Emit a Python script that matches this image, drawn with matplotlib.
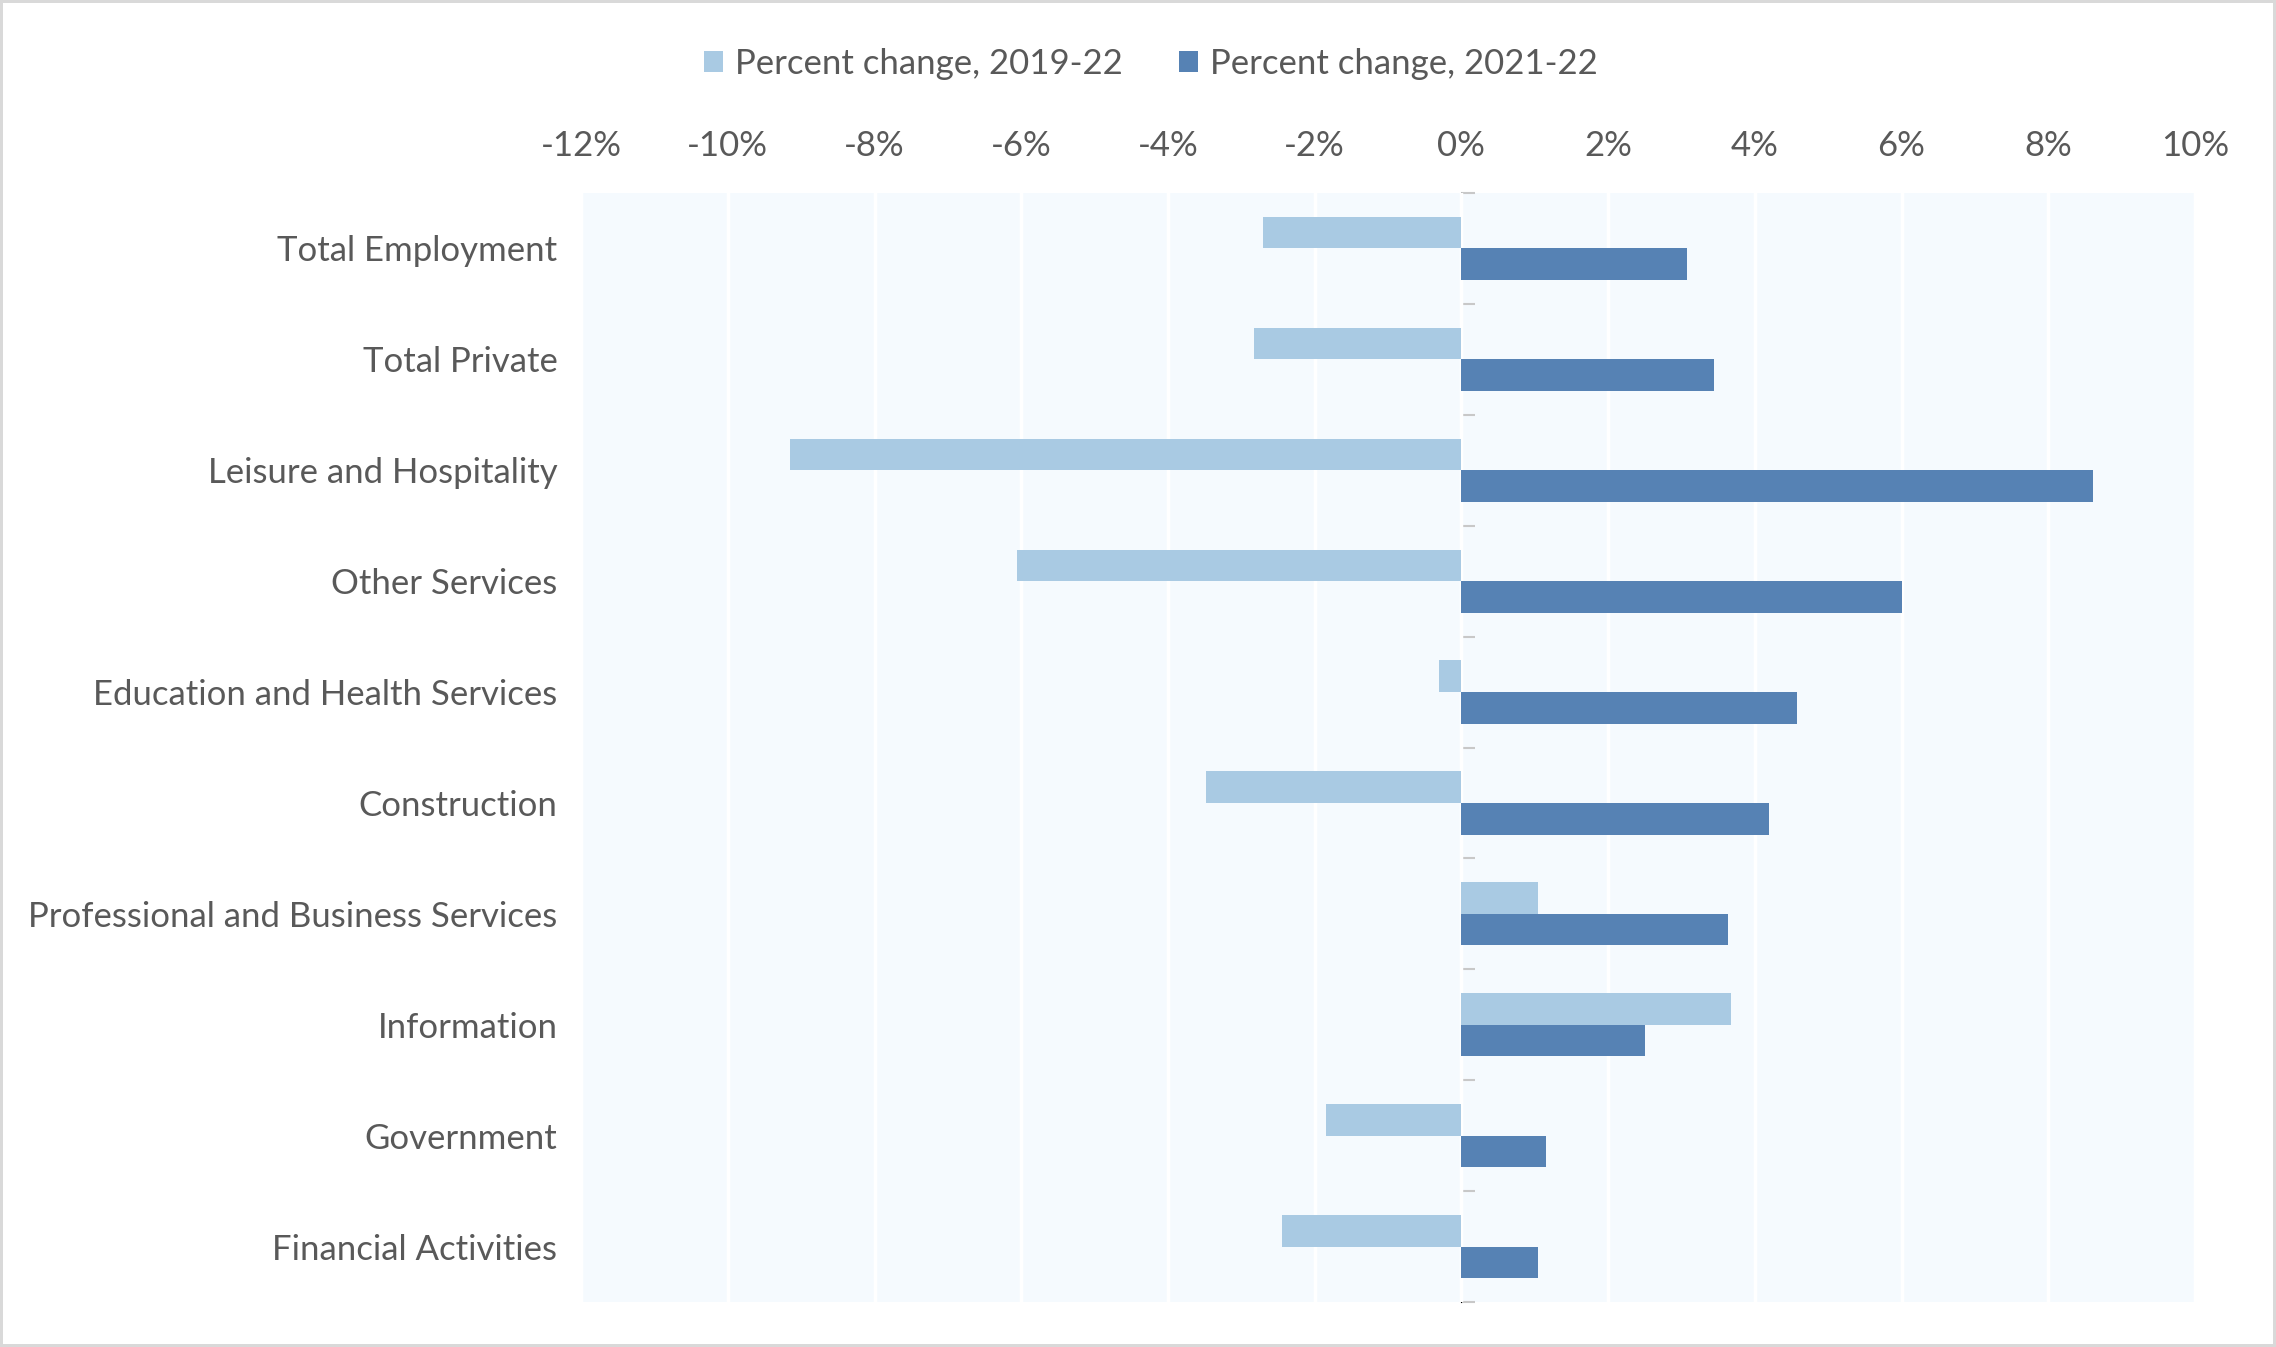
import matplotlib
matplotlib.use("Agg")
import matplotlib.pyplot as plt
from matplotlib.patches import Patch
import numpy as np

categories = ["Total Employment", "Total Private", "Leisure and Hospitality",
              "Other Services", "Education and Health Services", "Construction",
              "Professional and Business Services", "Information", "Government",
              "Financial Activities"]
change_2019_22 = [-2.70, -2.83, -9.15, -6.06, -0.31, -3.48, 1.05, 3.67, -1.84, -2.44]
change_2021_22 = [3.08, 3.45, 8.61, 6.00, 4.57, 4.20, 3.64, 2.50, 1.16, 1.05]
series_labels = ["Percent change, 2019-22", "Percent change, 2021-22"]
x_ticks = [-12, -10, -8, -6, -4, -2, 0, 2, 4, 6, 8, 10]

LIGHT = "#A9CAE3"
DARK = "#5682B4"
TEXT = "#595959"

plt.rcParams["font.family"] = ["Lato", "DejaVu Sans"]

fig = plt.figure(figsize=(22.76, 13.47), dpi=100)
fig.patch.set_facecolor("white")
fig.patch.set_edgecolor("#D9D9D9")
fig.patch.set_linewidth(3)

ax = fig.add_axes([0.2553, 0.0334, 0.9644 - 0.2553, 0.8567 - 0.0334])
ax.set_facecolor("#F5FAFE")

y = np.arange(len(categories))
h = 0.285
ax.barh(y - h / 2, change_2019_22, height=h, color=LIGHT, zorder=3)
ax.barh(y + h / 2, change_2021_22, height=h, color=DARK, zorder=3)

ax.set_xlim(-12, 10)
ax.set_ylim(len(categories) - 0.5, -0.5)

ax.xaxis.tick_top()
ax.set_xticks(x_ticks)
ax.set_xticklabels([f"{t}%" for t in x_ticks])
ax.tick_params(axis="x", length=0, pad=22, labelsize=25, labelcolor=TEXT)
ax.grid(axis="x", color="white", linewidth=2.5, zorder=1)
ax.set_axisbelow(True)

ax.set_yticks(y)
ax.set_yticklabels(categories)
ax.tick_params(axis="y", length=0, pad=17, labelsize=25, labelcolor=TEXT)

for s in ax.spines.values():
    s.set_visible(False)

# zero axis with category-boundary ticks
zero_loc = (0 - (-12)) / (10 - (-12))
sec = ax.secondary_yaxis(zero_loc)
sec.set_yticks(np.arange(-0.5, len(categories), 1.0))
sec.set_yticklabels([])
sec.tick_params(axis="y", direction="out", length=10, width=1.5, color="#C8C8C8")
sec.spines["left"].set_color("#D9D9D9")
sec.spines["left"].set_linewidth(1.5)
sec.spines["left"].set_zorder(4)

handles = [Patch(facecolor=LIGHT, edgecolor="none"), Patch(facecolor=DARK, edgecolor="none")]
fig.legend(handles, series_labels, loc="center", bbox_to_anchor=(0.5057, 0.9525),
           ncol=2, frameon=False, fontsize=25, labelcolor=TEXT,
           handlelength=0.55, handleheight=0.55, handletextpad=0.35, columnspacing=1.6)

fig.savefig("out.png", dpi=100, facecolor=fig.get_facecolor(), edgecolor=fig.get_edgecolor())
